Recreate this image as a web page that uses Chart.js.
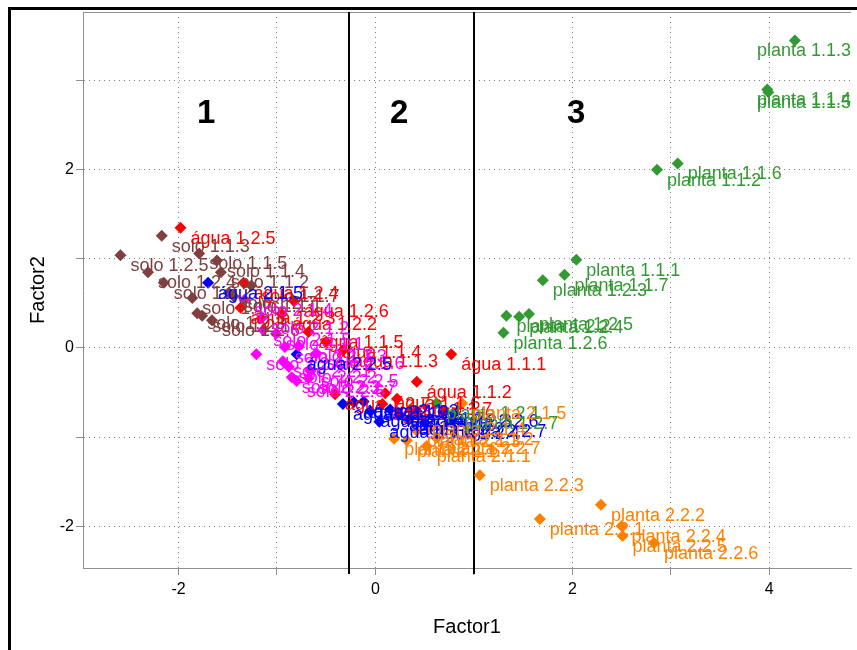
<!DOCTYPE html>
<html>
<head>
<meta charset="utf-8">
<script src="https://cdn.jsdelivr.net/npm/chart.js@4.4.1/dist/chart.umd.min.js"></script>
<style>
  body { margin: 0; background: #fff; }
  #wrap { position: relative; width: 857px; height: 650px; overflow: hidden; }
  #frame { position: absolute; left: 8px; top: 7px; width: 900px; height: 700px;
           border-left: 3px solid #000; border-top: 3px solid #000; }
  canvas { position: absolute; left: 0; top: 0; }
</style>
</head>
<body>
<div id="wrap">
  <div id="frame"></div>
  <canvas id="chart" width="857" height="650"></canvas>
</div>
<script>
// solo 1.x (brown)
const solo1Labels = ['solo 1.1.3','solo 1.2.5','solo 1.2.4','solo 1.2.2','solo 1.1.5','solo 1.1.4','solo 1.1.2',
  'solo 1.1.6','solo 1.2.3','solo 1.2.1','solo 1.2.6','solo 1.1.7','solo 1.1.1','solo 1.2.7'];
const solo1X = [-2.17,-2.59,-2.31,-2.15,-1.79,-1.61,-1.57,-1.86,-1.81,-1.76,-1.66,-1.26,-1.44,-1.49];
const solo1Y = [1.26,1.04,0.85,0.73,1.06,0.98,0.85,0.56,0.39,0.36,0.31,0.70,0.58,0.62];

// água 1.x (red)
const agua1Labels = ['água 1.2.5','água 1.2.4','água 1.2.3','água 1.2.6','água 1.1.5','água 1.1.4','água 1.1.3',
  'água 1.1.1','água 1.1.2','água 1.1.6','água 1.2.7','água 1.2.1','água 1.1.7','água 1.2.2'];
const agua1X = [-1.98,-1.34,-1.37,-0.83,-0.68,-0.50,-0.33,0.77,0.42,0.10,-0.41,0.07,0.22,-0.95];
const agua1Y = [1.35,0.73,0.45,0.53,0.18,0.07,-0.03,-0.07,-0.38,-0.51,-0.52,-0.63,-0.57,0.38];

// solo 2.x (magenta)
const solo2Labels = ['solo 2.1.4','solo 2.1.2','solo 2.1.5','solo 2.1.1','solo 2.2.4','solo 2.2.1','solo 2.2.2',
  'solo 2.2.3','solo 2.2.6','solo 2.2.7','solo 2.1.3','solo 2.1.6','solo 2.2.5','solo 2.1.7'];
const solo2X = [-1.33,-1.16,-1.14,-1.01,-1.21,-0.94,-0.88,-0.85,-0.80,-0.68,-0.78,-0.60,-0.66,-0.92];
const solo2Y = [0.54,0.33,0.20,0.16,-0.07,-0.15,-0.21,-0.33,-0.37,-0.34,0.02,-0.06,-0.26,0.01];

// água 2.x (blue)
const agua2Labels = ['água 2.1.5','água 2.2.5','água 2.1.1','água 2.1.2','água 2.1.3','água 2.1.4','água 2.1.6',
  'água 2.1.7','água 2.2.1','água 2.2.2','água 2.2.3','água 2.2.4','água 2.2.6','água 2.2.7'];
const agua2X = [-1.70,-0.80,-0.33,-0.22,-0.12,-0.05,0.04,0.15,0.24,0.34,0.42,0.50,0.69,0.77];
const agua2Y = [0.73,-0.07,-0.63,-0.61,-0.60,-0.71,-0.83,-0.69,-0.75,-0.80,-0.71,-0.84,-0.71,-0.82];

// planta 1.x (green)
const planta1Labels = ['planta 1.1.3','planta 1.1.4','planta 1.1.5','planta 1.1.6','planta 1.1.2','planta 1.1.1','planta 1.1.7',
  'planta 1.2.3','planta 1.2.2','planta 1.2.4','planta 1.2.5','planta 1.2.6','planta 1.2.1','planta 1.2.7'];
const planta1X = [4.26,3.98,3.99,3.07,2.86,2.04,1.92,1.70,1.33,1.46,1.56,1.30,0.62,0.80];
const planta1Y = [3.45,2.90,2.87,2.07,2.00,0.99,0.82,0.76,0.36,0.35,0.38,0.17,-0.62,-0.73];

// planta 2.x (orange)
const planta2Labels = ['planta 2.2.3','planta 2.2.2','planta 2.2.1','planta 2.2.4','planta 2.2.5','planta 2.2.6','planta 2.1.6',
  'planta 2.1.1','planta 2.1.4','planta 2.1.2','planta 2.2.7','planta 2.1.5','planta 2.1.3','planta 2.1.7'];
const planta2X = [1.06,2.29,1.67,2.50,2.51,2.83,0.19,0.52,0.47,0.55,0.62,0.88,0.42,0.32];
const planta2Y = [-1.43,-1.76,-1.92,-2.00,-2.11,-2.19,-1.02,-1.10,-0.80,-0.91,-1.01,-0.62,-0.93,-1.04];

const dividers = [-0.27, 1.0];
const zoneNames = ['1', '2', '3'];
const zoneX = [-1.72, 0.24, 2.04];
const zoneY = 2.63;

function makeSet(name, labels, xs, ys, color) {
  return {
    label: name,
    data: xs.map((x, i) => ({ x: x, y: ys[i], name: labels[i] })),
    backgroundColor: color,
    borderColor: color,
    pointStyle: 'rectRot',
    pointRadius: 6,
    pointHoverRadius: 6,
    borderWidth: 0
  };
}

const datasets = [
  makeSet('solo 1', solo1Labels, solo1X, solo1Y, '#804040'),
  makeSet('água 1', agua1Labels, agua1X, agua1Y, '#ff0000'),
  makeSet('solo 2', solo2Labels, solo2X, solo2Y, '#ff00ff'),
  makeSet('água 2', agua2Labels, agua2X, agua2Y, '#0000ff'),
  makeSet('planta 1', planta1Labels, planta1X, planta1Y, '#339933'),
  makeSet('planta 2', planta2Labels, planta2X, planta2Y, '#ff8000')
];

const extras = {
  id: 'extras',
  beforeDatasetsDraw(chart) {
    const { ctx, chartArea: a, scales: { x, y } } = chart;
    ctx.save();
    // top border of the plot box
    ctx.strokeStyle = '#909090';
    ctx.lineWidth = 1;
    ctx.beginPath();
    ctx.moveTo(a.left, a.top + 0.5);
    ctx.lineTo(a.right, a.top + 0.5);
    ctx.stroke();
    // zone dividers
    ctx.strokeStyle = '#000';
    ctx.lineWidth = 2;
    dividers.forEach(d => {
      const px = Math.round(x.getPixelForValue(d));
      ctx.beginPath();
      ctx.moveTo(px, a.top);
      ctx.lineTo(px, a.bottom + 6);
      ctx.stroke();
    });
    ctx.fillStyle = '#000';
    ctx.font = 'bold 33px "Liberation Sans", Arial, sans-serif';
    ctx.textAlign = 'center';
    ctx.textBaseline = 'middle';
    zoneNames.forEach((z, i) => {
      ctx.fillText(z, x.getPixelForValue(zoneX[i]), y.getPixelForValue(zoneY));
    });
    ctx.restore();
  },
  afterDatasetsDraw(chart) {
    const { ctx, chartArea: a } = chart;
    ctx.save();
    ctx.font = '18px "Liberation Sans", Arial, sans-serif';
    ctx.textAlign = 'left';
    ctx.textBaseline = 'middle';
    chart.data.datasets.forEach((ds, i) => {
      const meta = chart.getDatasetMeta(i);
      ctx.fillStyle = ds.backgroundColor;
      meta.data.forEach((pt, j) => {
        const txt = ds.data[j].name;
        const w = ctx.measureText(txt).width;
        let tx = pt.x + 10;
        if (tx + w > a.right) tx = a.right - w;
        ctx.fillText(txt, tx, pt.y + 11);
      });
    });
    ctx.restore();
  }
};

const evenLabel = v => (Math.round(v) % 2 === 0 ? String(Math.round(v)) : '');
const onlyIntegers = scale => { scale.ticks = scale.ticks.filter(t => Math.abs(t.value - Math.round(t.value)) < 1e-9); };

new Chart(document.getElementById('chart'), {
  type: 'scatter',
  data: { datasets: datasets },
  options: {
    responsive: false,
    animation: false,
    layout: { padding: { left: 12, top: 12, right: 0, bottom: 0 } },
    plugins: { legend: { display: false }, tooltip: { enabled: false } },
    scales: {
      x: {
        type: 'linear',
        min: -2.97,
        max: 4.83,
        afterBuildTicks: onlyIntegers,
        afterFit: s => { s.height = 82; },
        ticks: { stepSize: 1, autoSkip: false, maxRotation: 0, color: '#000', padding: 5,
                 font: { family: '"Liberation Sans", Arial, sans-serif', size: 16 }, callback: evenLabel },
        grid: { color: '#808080', lineWidth: 1, tickLength: 7, tickColor: '#909090', tickBorderDash: [] },
        border: { display: true, color: '#909090', width: 1, dash: [1, 4] },
        title: { display: true, text: 'Factor1', color: '#000', padding: { top: 0, bottom: 11 },
                 font: { family: '"Liberation Sans", Arial, sans-serif', size: 20 } }
      },
      y: {
        type: 'linear',
        min: -2.47,
        max: 3.77,
        afterBuildTicks: onlyIntegers,
        afterFit: s => { s.width = 71; },
        ticks: { stepSize: 1, autoSkip: false, color: '#000', padding: 2,
                 font: { family: '"Liberation Sans", Arial, sans-serif', size: 16 }, callback: evenLabel },
        grid: { color: '#808080', lineWidth: 1, tickLength: 7, tickColor: '#909090', tickBorderDash: [] },
        border: { display: true, color: '#909090', width: 1, dash: [1, 4] },
        title: { display: true, text: 'Factor2', color: '#000', padding: { top: 14, bottom: 0 },
                 font: { family: '"Liberation Sans", Arial, sans-serif', size: 20 } }
      }
    }
  },
  plugins: [extras]
});
</script>
</body>
</html>
